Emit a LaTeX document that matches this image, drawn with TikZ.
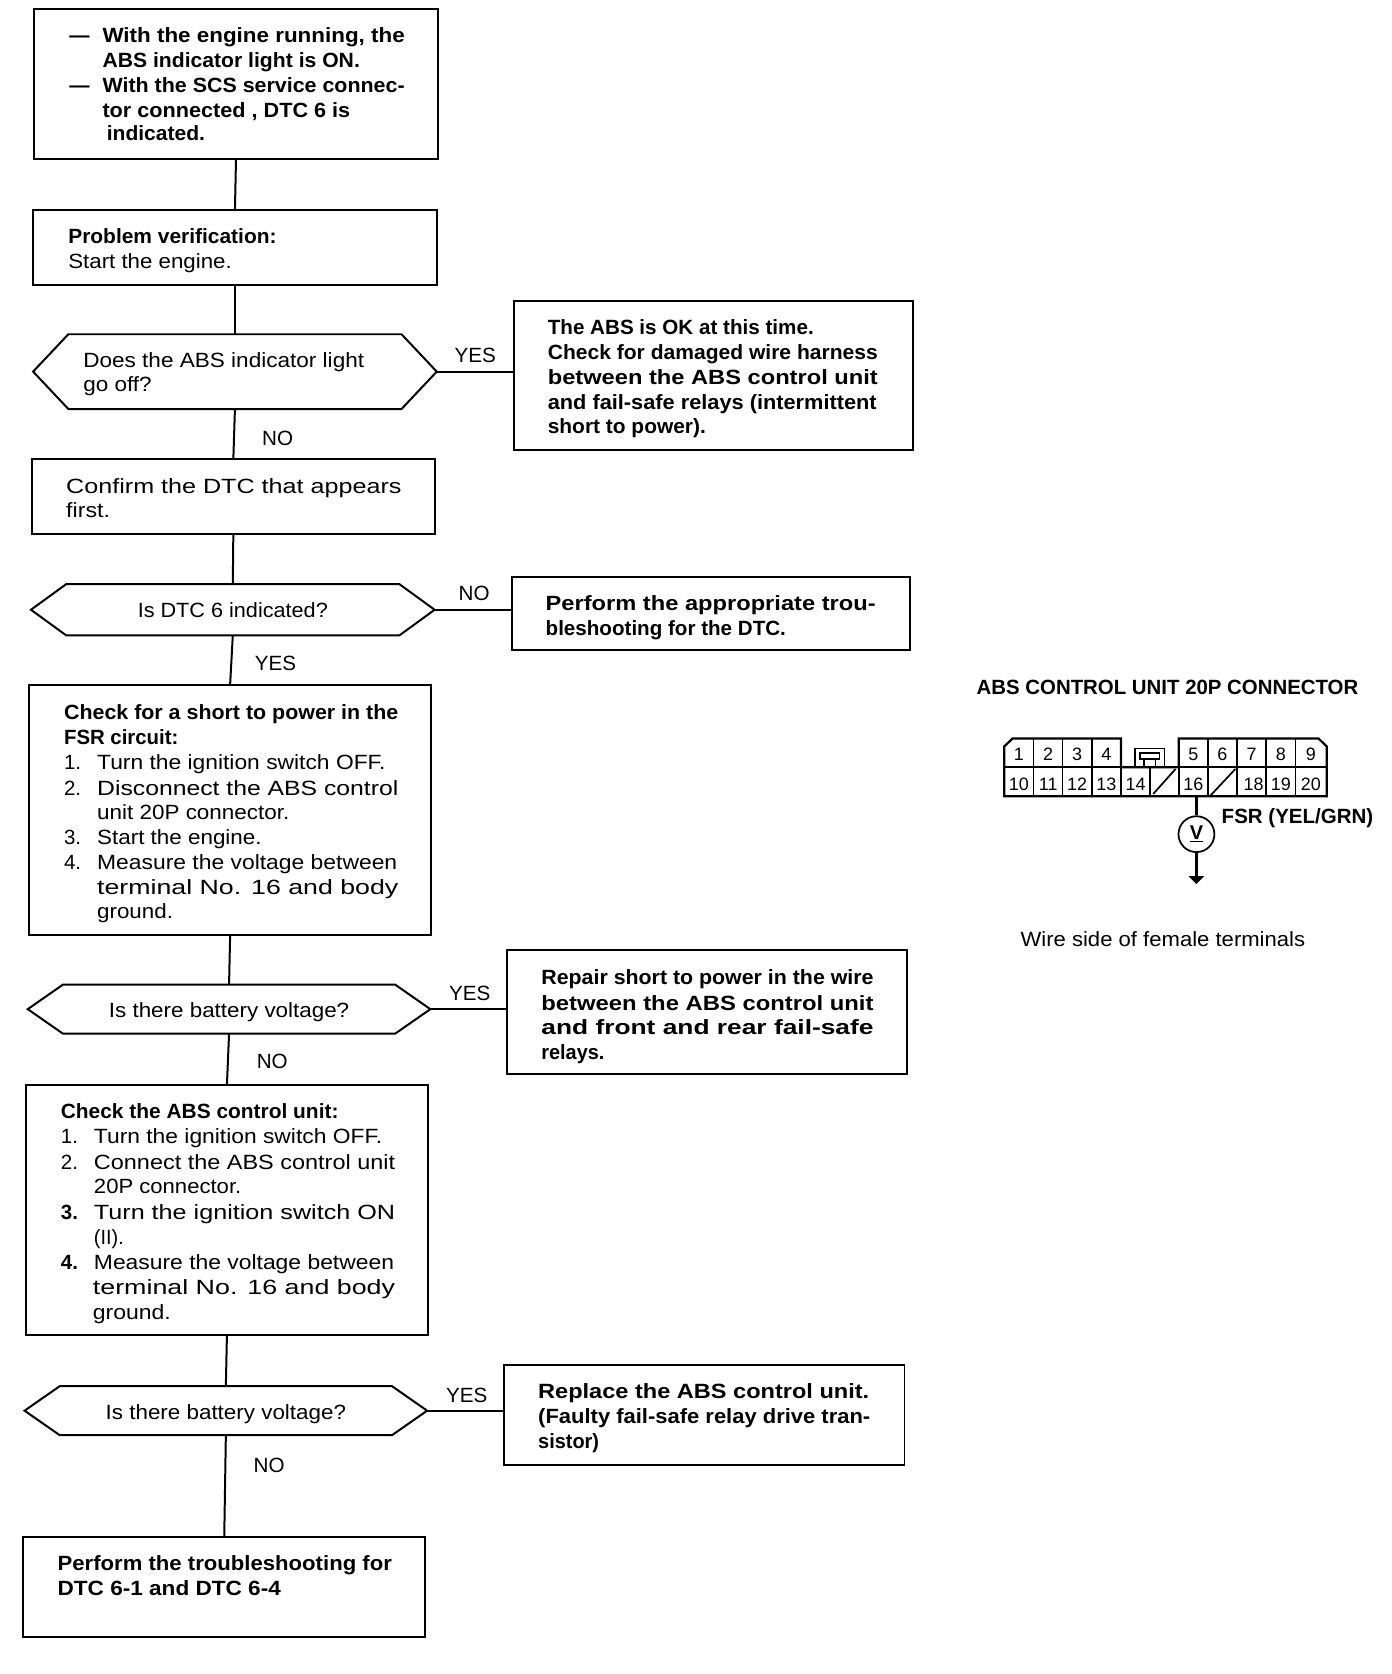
\documentclass[tikz,border=0pt]{standalone}
\usepackage{fontspec}
\usepackage{graphicx}
\setmainfont{Liberation Sans}
\usetikzlibrary{calc}
\newlength\uu \setlength\uu{0.8031pt}
\newlength\tlw
\newcommand\boxtext[5]{\def\bxl{#1}\def\bxb{#4}\hbox to \dimexpr#2\uu-#1\uu\relax{\vrule width0pt height\dimexpr#4\uu-#3\uu\relax\ignorespaces #5\hss}}
\newcommand\tl[4]{\setlength\tlw{\dimexpr#2\uu-#1\uu\relax}\rlap{\kern\dimexpr#1\uu-\bxl\uu\relax\raisebox{\dimexpr\bxb\uu-#3\uu-7\uu\relax}{\resizebox{\tlw}{\height}{#4}}}\ignorespaces}
\newcommand\flowbox[6]{\node[flowbox] (#1) at ({(#2+#3)/2},{(#4+#5)/2}) {\boxtext{#2}{#3}{#4}{#5}{#6}};}
% name, left, right, top, bottom, shoulder inset, lines
\newcommand\decision[7]{\node[decbox] (#1) at ({(#2+#3)/2},{(#4+#5)/2}) {\boxtext{#2}{#3}{#4}{#5}{#7}};
 \draw[flowline] (#1.west) -- ($(#1.north west)+(#6,0)$) -- ($(#1.north east)+(-#6,0)$) -- (#1.east) -- ($(#1.south east)+(-#6,0)$) -- ($(#1.south west)+(#6,0)$) -- cycle;}
\tikzset{
 flowline/.style={line width=1.5pt,line join=miter,black},
 flowbox/.style={draw,line width=1.5pt,inner sep=0pt,outer sep=0pt,font=\fontsize{15.5}{18}\selectfont},
 decbox/.style={inner sep=0pt,outer sep=0pt,font=\fontsize{15.5}{18}\selectfont},
 answer/.style={inner sep=0pt,font=\fontsize{15.5}{18}\selectfont},
 pinlabel/.style={inner sep=0pt,font=\fontsize{13.5}{15}\selectfont},
 conline/.style={line width=1.3pt,black},
 conheavy/.style={line width=1.7pt,black},
 captiontext/.style={inner sep=0pt,font=\fontsize{15.5}{18}\selectfont},
}
\begin{document}
\begin{tikzpicture}[x=0.8031pt,y=-0.8031pt]
\useasboundingbox (0,0) rectangle (1303.5,1567.6);
\fill[white] (0,0) rectangle (1303.5,1567.6);

\flowbox{b1}{32}{410}{8}{149}{%
 \tl{65}{84}{33}{\bfseries ---}
 \tl{96}{379}{33}{\bfseries With the engine running, the}
 \tl{96}{337}{56}{\bfseries ABS indicator light is ON.}
 \tl{65}{84}{80}{\bfseries ---}
 \tl{96}{379}{80}{\bfseries With the SCS service connec-}
 \tl{96}{328}{103}{\bfseries tor connected , DTC 6 is}
 \tl{100}{192}{125}{\bfseries indicated.}}

\flowbox{b2}{31}{409}{197}{267}{%
 \tl{64}{259}{221}{\bfseries Problem verification:}
 \tl{64}{217}{244}{Start the engine.}}

\decision{d1}{31}{409}{313}{383}{33}{%
 \tl{78}{341}{337}{Does the ABS indicator light}
 \tl{78}{142}{360}{go off?}}

\flowbox{b3}{481}{855}{282}{421}{%
 \tl{513}{762}{306}{\bfseries The ABS is OK at this time.}
 \tl{513}{822}{330}{\bfseries Check for damaged wire harness}
 \tl{513}{822}{353}{\bfseries between the ABS control unit}
 \tl{513}{821}{376}{\bfseries and fail-safe relays (intermittent}
 \tl{513}{661}{399}{\bfseries short to power).}}

\flowbox{b4}{30}{407}{430}{500}{%
 \tl{62}{376}{455}{Confirm the DTC that appears}
 \tl{62}{103}{478}{first.}}

\decision{d2}{29}{407}{547}{595}{33}{%
 \tl{129}{307}{571}{Is DTC 6 indicated?}}

\flowbox{b5}{479}{852}{540}{609}{%
 \tl{511}{820}{565}{\bfseries Perform the appropriate trou-}
 \tl{511}{736}{588}{\bfseries bleshooting for the DTC.}}

\flowbox{b6}{27}{404}{641}{876}{%
 \tl{60}{373}{667}{\bfseries Check for a short to power in the}
 \tl{60}{167}{690}{\bfseries FSR circuit:}
 \tl{60}{76}{714}{1.}
 \tl{91}{361}{714}{Turn the ignition switch OFF.}
 \tl{60}{76}{738}{2.}
 \tl{91}{373}{738}{Disconnect the ABS control}
 \tl{91}{271}{760}{unit 20P connector.}
 \tl{60}{76}{784}{3.}
 \tl{91}{245}{784}{Start the engine.}
 \tl{60}{76}{807}{4.}
 \tl{91}{372}{807}{Measure the voltage between}
 \tl{91}{373}{831}{terminal No. 16 and body}
 \tl{91}{162}{853}{ground.}}

\decision{d3}{26}{403}{922}{968}{33}{%
 \tl{102}{327}{946}{Is there battery voltage?}}

\flowbox{b7}{475}{849}{890}{1006}{%
 \tl{507}{818}{915}{\bfseries Repair short to power in the wire}
 \tl{507}{818}{939}{\bfseries between the ABS control unit}
 \tl{507}{818}{962}{\bfseries and front and rear fail-safe}
 \tl{507}{566}{985}{\bfseries relays.}}

\flowbox{b8}{24}{401}{1016}{1250}{%
 \tl{57}{317}{1040}{\bfseries Check the ABS control unit:}
 \tl{57}{73}{1064}{1.}
 \tl{88}{358}{1064}{Turn the ignition switch OFF.}
 \tl{57}{73}{1088}{2.}
 \tl{88}{370}{1088}{Connect the ABS control unit}
 \tl{88}{226}{1111}{20P connector.}
 \tl{57}{73}{1135}{\bfseries 3.}
 \tl{88}{370}{1135}{Turn the ignition switch ON}
 \tl{88}{116}{1158}{(II).}
 \tl{57}{73}{1182}{\bfseries 4.}
 \tl{88}{369}{1182}{Measure the voltage between}
 \tl{87}{370}{1205}{terminal No. 16 and body}
 \tl{87}{160}{1229}{ground.}}

\decision{d4}{23}{400}{1298}{1344}{33}{%
 \tl{99}{324}{1322}{Is there battery voltage?}}

\flowbox{b9}{472}{847}{1278}{1372}{%
 \tl{504}{814}{1303}{\bfseries Replace the ABS control unit.}
 \tl{504}{815}{1326}{\bfseries (Faulty fail-safe relay drive tran-}
 \tl{504}{561}{1349}{\bfseries sistor)}}

\flowbox{b10}{22}{398}{1439}{1533}{%
 \tl{54}{367}{1464}{\bfseries Perform the troubleshooting for}
 \tl{54}{263}{1487}{\bfseries DTC 6-1 and DTC 6-4}}

% connectors
\draw[flowline] (b1.south) -- (b2.north);
\draw[flowline] (b2.south) -- (d1.north);
\draw[flowline] (d1.south) -- (b4.north);
\draw[flowline] (b4.south) -- (d2.north);
\draw[flowline] (d2.south) -- (b6.north);
\draw[flowline] (b6.south) -- (d3.north);
\draw[flowline] (d3.south) -- (b8.north);
\draw[flowline] (b8.south) -- (d4.north);
\draw[flowline] (d4.south) -- (b10.north);
\draw[flowline] (d1.east) -- (d1.east -| b3.west);
\draw[flowline] (d2.east) -- (d2.east -| b5.west);
\draw[flowline] (d3.east) -- (d3.east -| b7.west);
\draw[flowline] (d4.east) -- (d4.east -| b9.west);

% branch labels
\node[answer] (l1) at (445,333) {YES};
\node[answer] (l2) at (260,411) {NO};
\node[answer] (l3) at (444,556) {NO};
\node[answer] (l4) at (258,621) {YES};
\node[answer] (l5) at (440,930) {YES};
\node[answer] (l6) at (255,994) {NO};
\node[answer] (l7) at (437,1307) {YES};
\node[answer] (l8) at (252,1372) {NO};

% connector drawing, coordinates in quarter points
\begin{scope}[shift={(900,617.4)},x=0.25pt,y=-0.25pt]
 \node[captiontext] (title) at (621,84) {\resizebox{287pt}{\height}{\bfseries ABS CONTROL UNIT 20P CONNECTOR}};
 \node[captiontext] (fsr) at (1012,478) {\resizebox{114pt}{\height}{\bfseries FSR (YEL/GRN)}};
 \node[captiontext] (side) at (607,842) {\resizebox{214pt}{\height}{Wire side of female terminals}};
 % outline and grid
 \draw[conheavy] (481,325) -- (481,238) -- (155,238) -- (130,262) -- (130,412) -- (1100,412) -- (1100,262) -- (1075,238) -- (655,238) -- (655,325) -- (481,325);
 \draw[conline] (130,325) -- (1100,325);
 \draw[conline] (218,238) -- (218,412) (305,238) -- (305,412) (393,238) -- (393,412) (481,325) -- (481,412) (568,325) -- (568,412) (655,325) -- (655,412) (743,238) -- (743,412) (830,238) -- (830,412) (918,238) -- (918,412) (1006,238) -- (1006,412);
 \draw[conline] (578,405) -- (645,330) (750,410) -- (825,330);
 \draw[conline] (523,325) -- (523,268) -- (612,268) -- (612,325) (538,282) rectangle (597,300) (550,300) -- (550,325) (585,300) -- (585,325);
 % pin numbers
 \foreach \n/\px in {1/174,2/262,3/349,4/437,5/699,6/786,7/874,8/962,9/1052}
  \node[pinlabel] (p\n) at (\px,285) {\n};
 \foreach \n/\px in {10/174,11/262,12/349,13/437,14/525,16/699,18/880,19/962,20/1052}
  \node[pinlabel] (p\n) at (\px,375) {\n};
 % meter
 \coordinate (w16) at (708,412);
 \node[draw,circle,line width=1.3pt,inner sep=0pt,minimum size=27pt,font=\bfseries\fontsize{15}{18}\selectfont] (vm) at (708,526) {\underline{V}};
 \coordinate (gnd) at (708,652);
 \draw[conheavy] (w16) -- (vm.north);
 \draw[conheavy] (vm.south) -- (gnd);
 \fill ($(gnd)+(-24,0)$) -- ($(gnd)+(24,0)$) -- ($(gnd)+(0,24)$) -- cycle;
\end{scope}
\end{tikzpicture}
\end{document}
